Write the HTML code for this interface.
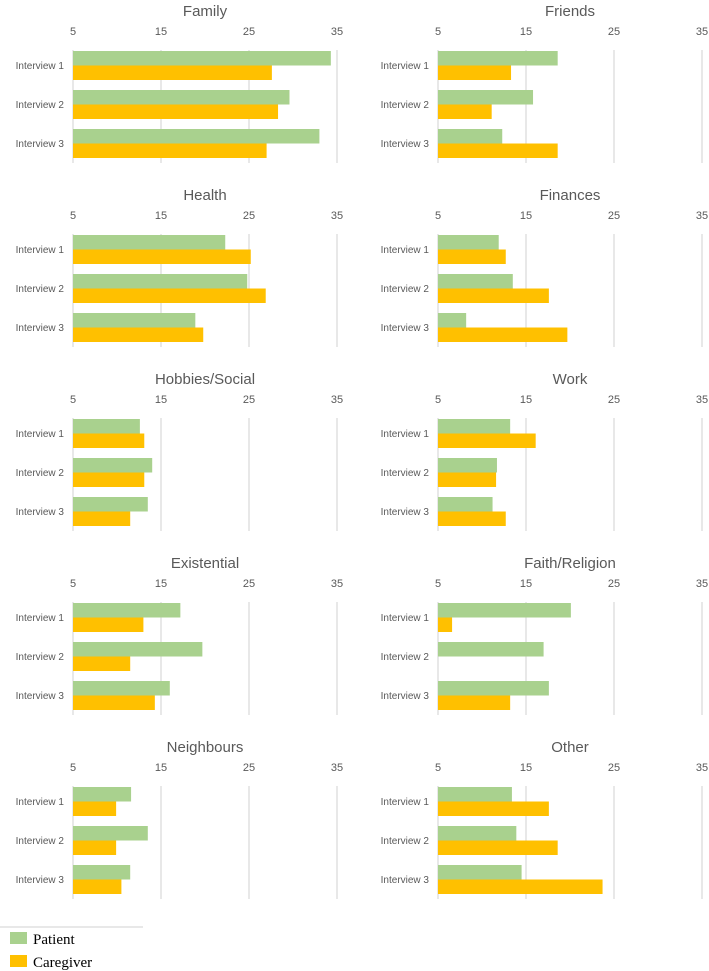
<!DOCTYPE html>
<html><head><meta charset="utf-8"><style>
body{margin:0;background:#fff;width:709px;height:971px;overflow:hidden}
svg{display:block}
</style></head><body>
<svg id="c" width="709" height="971"></svg>
<script>
const titles=["Family","Friends","Health","Finances","Hobbies/Social","Work","Existential","Faith/Religion","Neighbours","Other"];
const categories=["Interview 1","Interview 2","Interview 3"];
const patient=[[34.3,29.6,33],[18.6,15.8,12.3],[22.3,24.8,18.9],[11.9,13.5,8.2],[12.6,14,13.5],[13.2,11.7,11.2],[17.2,19.7,16],[20.1,17,17.6],[11.6,13.5,11.5],[13.4,13.9,14.5]];
const caregiver=[[27.6,28.3,27],[13.3,11.1,18.6],[25.2,26.9,19.8],[12.7,17.6,19.7],[13.1,13.1,11.5],[16.1,11.6,12.7],[13,11.5,14.3],[6.6,0,13.2],[9.9,9.9,10.5],[17.6,18.6,23.7]];
const ticks=[5,15,25,35];
const NS="http://www.w3.org/2000/svg";
const svg=document.getElementById('c');
function mk(t,a,p){const e=document.createElementNS(NS,t);for(const k in a)e.setAttribute(k,a[k]);(p||svg).appendChild(e);return e;}
titles.forEach((title,i)=>{
  const col=i%2,row=Math.floor(i/2);
  const x0=col?438:73, oy=row*184;
  const xs=v=>x0+(v-5)*8.8;
  const g=mk('g',{});
  
  
  const t=mk('text',{x:xs(20),y:oy+16,'text-anchor':'middle','font-size':15,fill:'#595959','font-family':'Liberation Sans, sans-serif'},g);
  t.textContent=title;
  
  
  ticks.forEach(v=>{
    const l=mk('line',{x1:xs(v),x2:xs(v),y1:oy+50,y2:oy+163,stroke:'#d9d9d9','stroke-width':1.2},g);
    
    
    const tl=mk('text',{x:xs(v),y:oy+35,'text-anchor':'middle','font-size':11,fill:'#595959','font-family':'Liberation Sans, sans-serif'},g);
    tl.textContent=v;
    
    
  });
  categories.forEach((c,j)=>{
    const by=oy+51+j*39;
    const cl=mk('text',{x:x0-9,y:by+18,'text-anchor':'end','font-size':10,fill:'#595959','font-family':'Liberation Sans, sans-serif'},g);
    cl.textContent=c;
    
    
    const p=patient[i][j],q=caregiver[i][j];
    const b1=mk('rect',{x:x0,y:by,width:Math.max(0,xs(p)-x0),height:14.5,fill:'#a9d18e'},g);
    
    
    const b2=mk('rect',{x:x0,y:by+14.5,width:Math.max(0,q?xs(q)-x0:0),height:14.5,fill:'#ffc000'},g);
    
    
  });
});
const lg=mk('g',{});


mk('line',{x1:0,x2:143,y1:927,y2:927,stroke:'#d0d0d0'},lg);
[['Patient','#a9d18e',932],['Caregiver','#ffc000',955]].forEach(([n,c,y])=>{
  const r=mk('rect',{x:10,y:y,width:17,height:12,fill:c},lg);
  
  
  const t=mk('text',{x:33,y:y+12,'font-size':15,fill:'#000','font-family':'Liberation Serif, serif'},lg);
  t.textContent=n;
  
  
});
</script>
</body></html>
